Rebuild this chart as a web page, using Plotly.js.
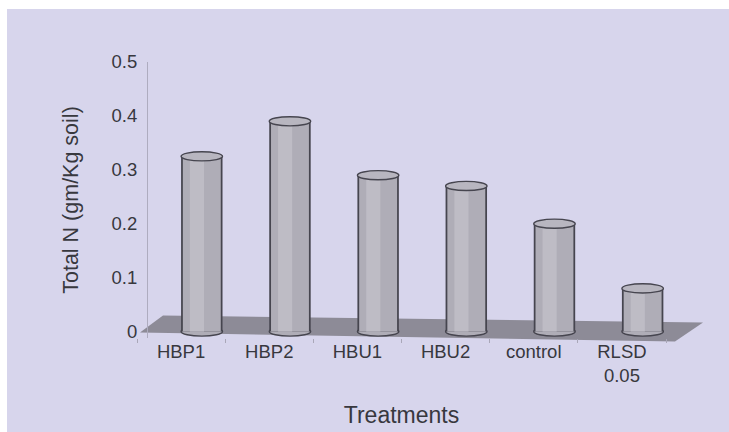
<!DOCTYPE html>
<html>
<head>
<meta charset="utf-8">
<script src="https://cdn.plot.ly/plotly-3.0.1.min.js"></script>
<style>
  html, body { margin: 0; padding: 0; background: #ffffff; width: 729px; height: 432px; overflow: hidden; }
  #chart { position: absolute; left: 7px; top: 9px; width: 722px; height: 423px; }
</style>
</head>
<body>
<div id="chart"></div>
<script>
// ---- data ----
const categories = ['HBP1', 'HBP2', 'HBU1', 'HBU2', 'control', 'RLSD<br>0.05'];
const totalN = [0.325, 0.39, 0.29, 0.27, 0.2, 0.08];
const yTicks = [0, 0.1, 0.2, 0.3, 0.4, 0.5];
const yTickLabels = ['0', '0.1', '0.2', '0.3', '0.4', '0.5'];

// ---- style ----
const barW = 0.47;        // cylinder width (category units)
const innerW = 0.43;
const ellH = 0.0085;      // half-height of the cylinder ends (y units)
const edge = '#46454f';
const body = '#afadb7';
const light = '#bebcc5';
const capFill = '#b8b6c0';
const floorCol = '#8d8b97';
const txt = '#38383e';

const idx = categories.map((_, i) => i);

const traces = [
  { type: 'bar', x: categories, y: totalN, width: barW, offset: 0,
    marker: { color: edge, line: { width: 0 } }, hoverinfo: 'skip' },
  { type: 'bar', x: categories, y: totalN, width: innerW, offset: (barW - innerW) / 2,
    marker: { color: body, line: { width: 0 } }, hoverinfo: 'skip' },
  { type: 'bar', x: categories, y: totalN, width: 0.16, offset: 0.10,
    marker: { color: light, line: { width: 0 } }, hoverinfo: 'skip' }
];

const shapes = [];
// floor (decoration)
shapes.push({
  type: 'path', xref: 'paper', yref: 'paper', layer: 'below',
  path: 'M 0.0057 0.0199 L 0.0491 0.0814 L 1.070 0.0561 L 1.017 -0.0127 Z',
  fillcolor: floorCol, line: { width: 0 }
});
// cylinder bottoms and tops, placed from the data
idx.forEach(i => {
  shapes.push({
    type: 'circle', xref: 'x', yref: 'y', layer: 'below',
    x0: i, x1: i + barW, y0: -ellH, y1: ellH,
    fillcolor: body, line: { color: edge, width: 1.4 }
  });
  shapes.push({
    type: 'circle', xref: 'x', yref: 'y', layer: 'above',
    x0: i, x1: i + barW, y0: totalN[i] - ellH, y1: totalN[i] + ellH,
    fillcolor: capFill, line: { color: edge, width: 1.4 }
  });
});

const layout = {
  width: 722, height: 423,
  margin: { l: 130, r: 63, t: 53, b: 93.5 },
  paper_bgcolor: '#d7d5ec',
  plot_bgcolor: 'rgba(0,0,0,0)',
  showlegend: false,
  barmode: 'overlay',
  font: { family: 'Liberation Sans, Arial, sans-serif', color: txt },
  xaxis: {
    type: 'category',
    range: [-0.5, 5.5],
    tickson: 'boundaries',
    ticks: 'outside', ticklen: 4, tickcolor: '#a9a7b8',
    showline: false, showgrid: false, zeroline: false,
    tickfont: { size: 18.5, color: txt },
    title: { text: 'Treatments', font: { size: 23, color: txt }, standoff: 22 },
    automargin: false, fixedrange: true
  },
  yaxis: {
    range: [-0.012, 0.5],
    anchor: 'free', position: 0.0189,
    tickvals: yTicks, ticktext: yTickLabels,
    ticks: 'outside', ticklen: 6, tickcolor: 'rgba(0,0,0,0)',
    showline: true, linecolor: '#aeacbf', linewidth: 1,
    showgrid: false, zeroline: false,
    tickfont: { size: 18.5, color: txt },
    title: { text: 'Total N (gm/Kg soil)', font: { size: 21.5, color: txt }, standoff: 26 },
    automargin: false, fixedrange: true
  },
  shapes: shapes
};

Plotly.newPlot('chart', traces, layout, { displayModeBar: false, staticPlot: true });
</script>
</body>
</html>
